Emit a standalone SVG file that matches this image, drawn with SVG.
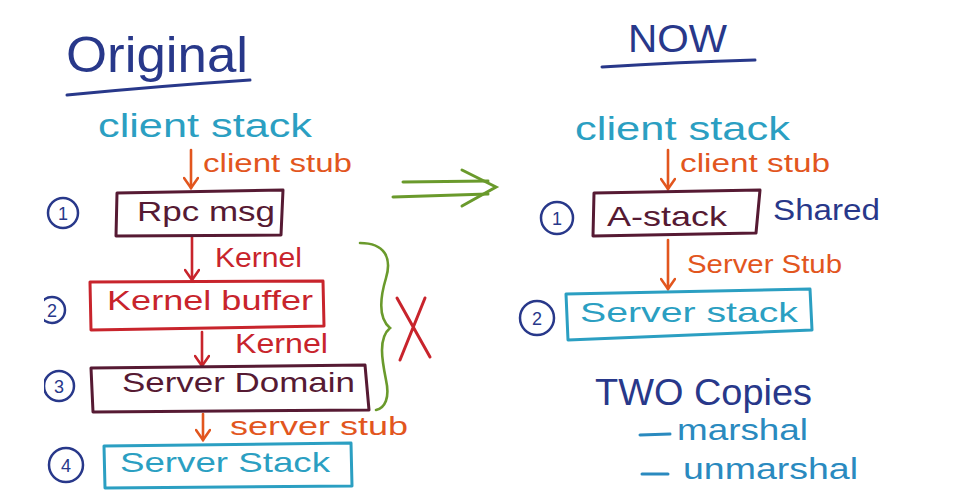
<svg xmlns="http://www.w3.org/2000/svg" width="958" height="497" viewBox="0 0 958 497">
<defs>
<style>
text{font-family:"Liberation Sans","DejaVu Sans",sans-serif;}
.blue{fill:#28388a;}
.teal{fill:#2b9fc2;}
.orange{fill:#e2561e;}
.red{fill:#c8242c;}
.maroon{fill:#561a33;}
.box{fill:none;stroke-width:3;stroke-linejoin:round;}
.circ{fill:none;stroke:#28388a;stroke-width:2.5;}
.num{fill:#28388a;font-size:18px;text-anchor:middle;}
.conn{fill:none;stroke-width:2.6;stroke-linecap:round;}
</style>
<marker id="ho" viewBox="-12 -8 14 16" markerWidth="14" markerHeight="16" refX="0" refY="0" orient="auto" markerUnits="userSpaceOnUse">
<path d="M-10,-7 L0,0 L-10,7" fill="none" stroke="#e2561e" stroke-width="2.6" stroke-linecap="round"/>
</marker>
<marker id="hr" viewBox="-12 -8 14 16" markerWidth="14" markerHeight="16" refX="0" refY="0" orient="auto" markerUnits="userSpaceOnUse">
<path d="M-10,-7 L0,0 L-10,7" fill="none" stroke="#c8242c" stroke-width="2.6" stroke-linecap="round"/>
</marker>
<clipPath id="lc"><rect x="44" y="0" width="914" height="497"/></clipPath>
</defs>
<rect width="958" height="497" fill="#ffffff"/>

<g id="title-original">
<text x="66" y="72" class="blue" font-size="50" textLength="182" lengthAdjust="spacingAndGlyphs">Original</text>
<path d="M67,95 Q160,86 250,80" fill="none" stroke="#28388a" stroke-width="3" stroke-linecap="round"/>
</g>
<g id="title-now">
<text x="628" y="52" class="blue" font-size="38" textLength="99" lengthAdjust="spacingAndGlyphs">NOW</text>
<path d="M602,67 Q680,62 755,60" fill="none" stroke="#28388a" stroke-width="3" stroke-linecap="round"/>
</g>

<g id="connectors">
<path class="conn" stroke="#e2561e" d="M191,150 L191,188" marker-end="url(#ho)"/>
<path class="conn" stroke="#c8242c" d="M192,237 L192,280" marker-end="url(#hr)"/>
<path class="conn" stroke="#c8242c" d="M202,332 L202,366" marker-end="url(#hr)"/>
<path class="conn" stroke="#e2561e" d="M203,414 L203,440" marker-end="url(#ho)"/>
<path class="conn" stroke="#e2561e" d="M668,150 L668,189" marker-end="url(#ho)"/>
<path class="conn" stroke="#e2561e" d="M668,240 L668,289" marker-end="url(#ho)"/>
<g id="double-arrow" fill="none" stroke="#6a9a2c" stroke-width="3" stroke-linecap="round">
<path d="M403,182 L488,181"/>
<path d="M393,197 L488,194"/>
<path d="M462,170 L496,187 L462,206"/>
</g>
</g>

<g id="left-client-stack">
<text x="98" y="137" class="teal" font-size="34" textLength="214" lengthAdjust="spacingAndGlyphs">client stack</text>
</g>
<g id="left-client-stub">
<text x="203" y="172" class="orange" font-size="26" textLength="149" lengthAdjust="spacingAndGlyphs">client stub</text>
</g>

<g id="node-rpc-msg">
<circle class="circ" cx="63" cy="213" r="15"/>
<text x="63" y="220" class="num">1</text>
<path class="box" stroke="#561a33" d="M117,193 L283,190 L281,235 L116,236 Z"/>
<text x="137" y="221" class="maroon" font-size="28" textLength="138" lengthAdjust="spacingAndGlyphs">Rpc msg</text>
</g>
<g id="label-kernel-1">
<text x="215" y="267" class="red" font-size="28" textLength="87" lengthAdjust="spacingAndGlyphs">Kernel</text>
</g>

<g id="node-kernel-buffer">
<g clip-path="url(#lc)">
<circle class="circ" cx="52" cy="310" r="13"/>
<text x="52" y="317" class="num">2</text>
</g>
<path class="box" stroke="#c8242c" d="M90,282 L323,281 L324,326 L91,330 Z"/>
<text x="107" y="310" class="red" font-size="28" textLength="206" lengthAdjust="spacingAndGlyphs">Kernel buffer</text>
</g>
<g id="label-kernel-2">
<text x="235" y="353" class="red" font-size="28" textLength="93" lengthAdjust="spacingAndGlyphs">Kernel</text>
</g>

<g id="node-server-domain">
<g clip-path="url(#lc)">
<circle class="circ" cx="59" cy="386" r="15"/>
<text x="59" y="393" class="num">3</text>
</g>
<path class="box" stroke="#561a33" d="M91,368 L365,365 L369,410 L93,412 Z"/>
<text x="122" y="392" class="maroon" font-size="28" textLength="233" lengthAdjust="spacingAndGlyphs">Server Domain</text>
</g>
<g id="label-server-stub-left">
<text x="230" y="435" class="orange" font-size="26" textLength="178" lengthAdjust="spacingAndGlyphs">server stub</text>
</g>

<g id="node-server-stack-left">
<circle class="circ" cx="66" cy="465" r="17"/>
<text x="66" y="472" class="num">4</text>
<path class="box" stroke="#2b9fc2" d="M104,446 L351,443 L352,486 L105,488 Z"/>
<text x="120" y="472" class="teal" font-size="28" textLength="210" lengthAdjust="spacingAndGlyphs">Server Stack</text>
</g>

<g id="brace-x">
<path d="M360,243 C385,243 392,258 386,278 C380,298 378,318 390,328 C378,338 382,360 386,380 C390,398 385,408 376,410" fill="none" stroke="#6a9a2c" stroke-width="2.6" stroke-linecap="round"/>
<path d="M397,298 L430,357 M425,298 L400,360" fill="none" stroke="#c8242c" stroke-width="3" stroke-linecap="round"/>
</g>

<g id="right-client-stack">
<text x="575" y="140" class="teal" font-size="34" textLength="215" lengthAdjust="spacingAndGlyphs">client stack</text>
</g>
<g id="right-client-stub">
<text x="680" y="172" class="orange" font-size="26" textLength="150" lengthAdjust="spacingAndGlyphs">client stub</text>
</g>

<g id="node-a-stack">
<circle class="circ" cx="557" cy="218" r="16"/>
<text x="557" y="225" class="num">1</text>
<path class="box" stroke="#561a33" d="M594,193 L760,190 L756,233 L593,236 Z"/>
<text x="607" y="226" class="maroon" font-size="28" textLength="120" lengthAdjust="spacingAndGlyphs">A-stack</text>
<text x="773" y="220" class="blue" font-size="30" textLength="107" lengthAdjust="spacingAndGlyphs">Shared</text>
</g>
<g id="right-server-stub">
<text x="687" y="273" class="orange" font-size="26" textLength="155" lengthAdjust="spacingAndGlyphs">Server Stub</text>
</g>

<g id="node-server-stack-right">
<circle class="circ" cx="537" cy="318" r="17"/>
<text x="537" y="325" class="num">2</text>
<path class="box" stroke="#2b9fc2" d="M566,294 L810,289 L812,330 L568,340 Z"/>
<text x="580" y="322" class="teal" font-size="28" textLength="218" lengthAdjust="spacingAndGlyphs">Server stack</text>
</g>

<g id="two-copies">
<text x="595" y="405" class="blue" font-size="36" textLength="217" lengthAdjust="spacingAndGlyphs">TWO Copies</text>
<path d="M640,435 L670,434 M642,474 L668,474" fill="none" stroke="#2a8abf" stroke-width="3" stroke-linecap="round"/>
<text x="677" y="440" font-size="30" fill="#2a8abf" textLength="131" lengthAdjust="spacingAndGlyphs">marshal</text>
<text x="683" y="479" font-size="30" fill="#2a8abf" textLength="175" lengthAdjust="spacingAndGlyphs">unmarshal</text>
</g>
</svg>
